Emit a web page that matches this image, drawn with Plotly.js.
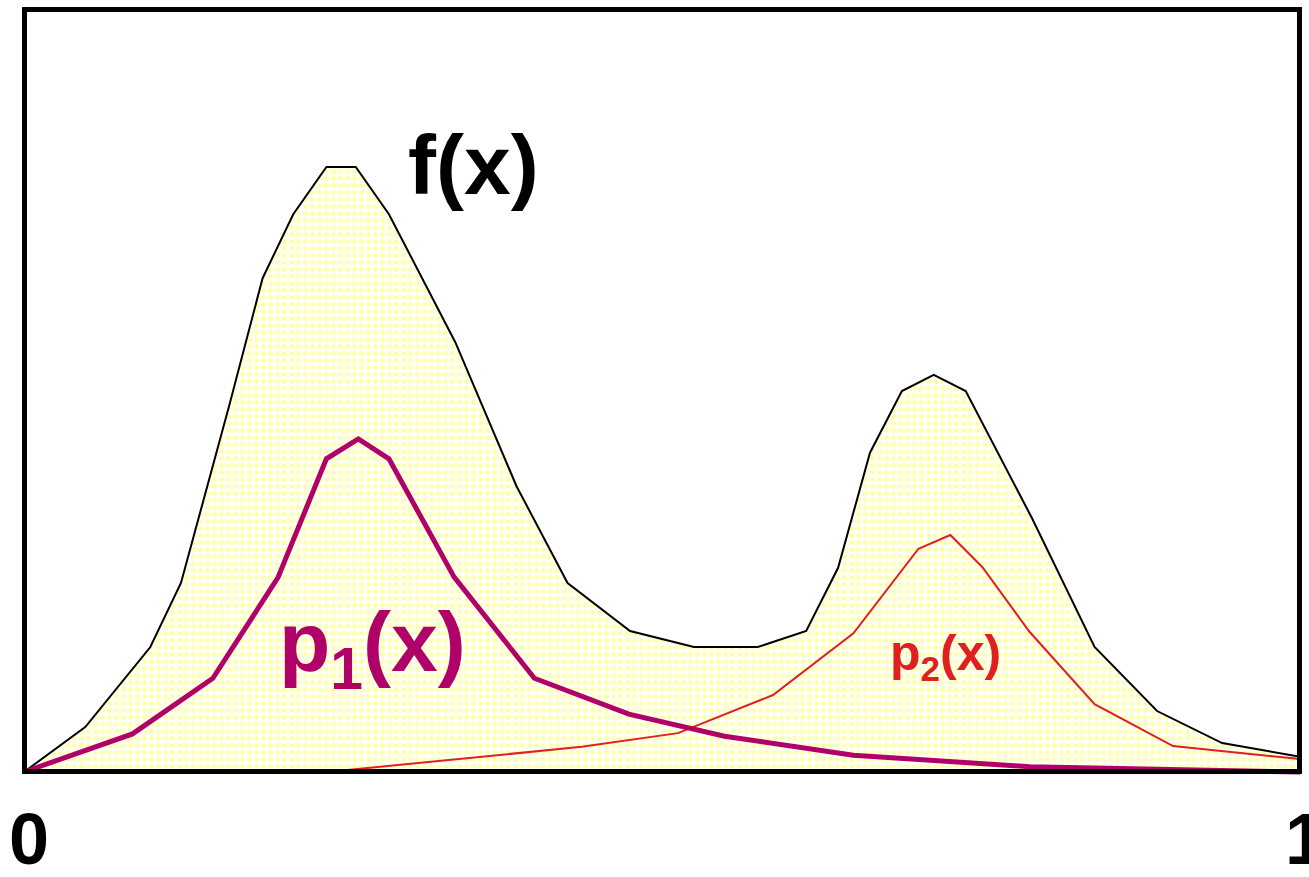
<!DOCTYPE html>
<html>
<head>
<meta charset="utf-8">
<script src="https://cdn.plot.ly/plotly-3.0.1.min.js"></script>
<style>
  html, body { margin: 0; padding: 0; background: #fff; }
  #chart { width: 1309px; height: 877px; }
</style>
</head>
<body>
<div id="chart"></div>
<script>
// f(x): the full curve, shaded underneath
const fX = [0, 0.048, 0.099, 0.123, 0.161, 0.187, 0.211, 0.237, 0.260, 0.286, 0.338, 0.386, 0.426,
            0.475, 0.525, 0.575, 0.613, 0.638, 0.663, 0.688, 0.713, 0.738, 0.790, 0.839, 0.888, 0.939, 1];
const fY = [0, 5.9, 16.4, 24.8, 48.2, 64.8, 73.2, 79.4, 79.4, 73.2, 56.4, 37.5, 24.8,
            18.5, 16.4, 16.4, 18.5, 26.8, 41.9, 50.0, 52.1, 50.0, 33.3, 16.4, 8.0, 3.8, 2.0];

// p1(x): left component
const p1X = [0, 0.085, 0.148, 0.199, 0.237, 0.262, 0.286, 0.337, 0.400, 0.474, 0.549, 0.650, 0.788, 1];
const p1Y = [0, 5.0, 12.3, 25.5, 41.1, 43.7, 41.1, 25.6, 12.3, 7.6, 4.7, 2.2, 0.7, 0];

// p2(x): right component
const p2X = [0.2375, 0.437, 0.5125, 0.587, 0.650, 0.701, 0.726, 0.751, 0.788, 0.839, 0.9005, 1];
const p2Y = [0, 3.3, 5.1, 10.1, 18.2, 29.3, 31.1, 26.9, 18.4, 8.9, 3.4, 1.7];

const tickVals = [0, 1];
const tickText = ['0', '1'];

const font = 'Liberation Sans, Arial, sans-serif';

const traces = [
  {
    x: fX, y: fY, type: 'scatter', mode: 'lines', name: 'f(x)',
    line: { color: '#000000', width: 2 },
    fill: 'tozeroy',
    fillcolor: '#fffff0',
    fillpattern: { shape: '.', size: 7, solidity: 0.35, fgcolor: '#ffffa8', bgcolor: '#fffff4' }
  },
  {
    x: p2X, y: p2Y, type: 'scatter', mode: 'lines', name: 'p2(x)',
    line: { color: '#e02020', width: 2 }
  },
  {
    x: p1X, y: p1Y, type: 'scatter', mode: 'lines', name: 'p1(x)',
    line: { color: '#b0006a', width: 5 }
  }
];

const layout = {
  width: 1309, height: 877,
  margin: { l: 22, r: 6, t: 7, b: 100 },
  paper_bgcolor: '#ffffff', plot_bgcolor: '#ffffff',
  showlegend: false,
  xaxis: {
    range: [-0.00157, 1.00235],
    showgrid: false, zeroline: false, showline: false,
    tickvals: tickVals, ticktext: tickText, ticks: '',
    ticklabeloverflow: 'allow',
    ticklabelstandoff: 14,
    ticklabelshift: 5,
    tickfont: { family: font, size: 72, color: '#000', weight: 'bold' }
  },
  yaxis: {
    range: [-0.656, 100.39],
    showgrid: false, zeroline: false, showline: false, showticklabels: false, ticks: ''
  },
  shapes: [{
    type: 'rect', xref: 'x', yref: 'y', layer: 'above',
    x0: 0.0004, x1: 0.9996, y0: 0.066, y1: 100.07,
    line: { color: '#000', width: 5 }, fillcolor: 'rgba(0,0,0,0)'
  }],
  annotations: [
    { x: 0.352, y: 79.6, xref: 'x', yref: 'y', text: 'f(x)', showarrow: false,
      font: { family: font, size: 84, color: '#000', weight: 'bold' } },
    { x: 0.2735, y: 16.3, xref: 'x', yref: 'y', text: 'p<sub>1</sub>(x)', showarrow: false,
      font: { family: font, size: 84, color: '#b0006a', weight: 'bold' } },
    { x: 0.7218, y: 15.1, xref: 'x', yref: 'y', text: 'p<sub>2</sub>(x)', showarrow: false,
      font: { family: font, size: 50, color: '#e02020', weight: 'bold' } }
  ]
};

Plotly.newPlot('chart', traces, layout, { displayModeBar: false, staticPlot: true });
</script>
</body>
</html>
